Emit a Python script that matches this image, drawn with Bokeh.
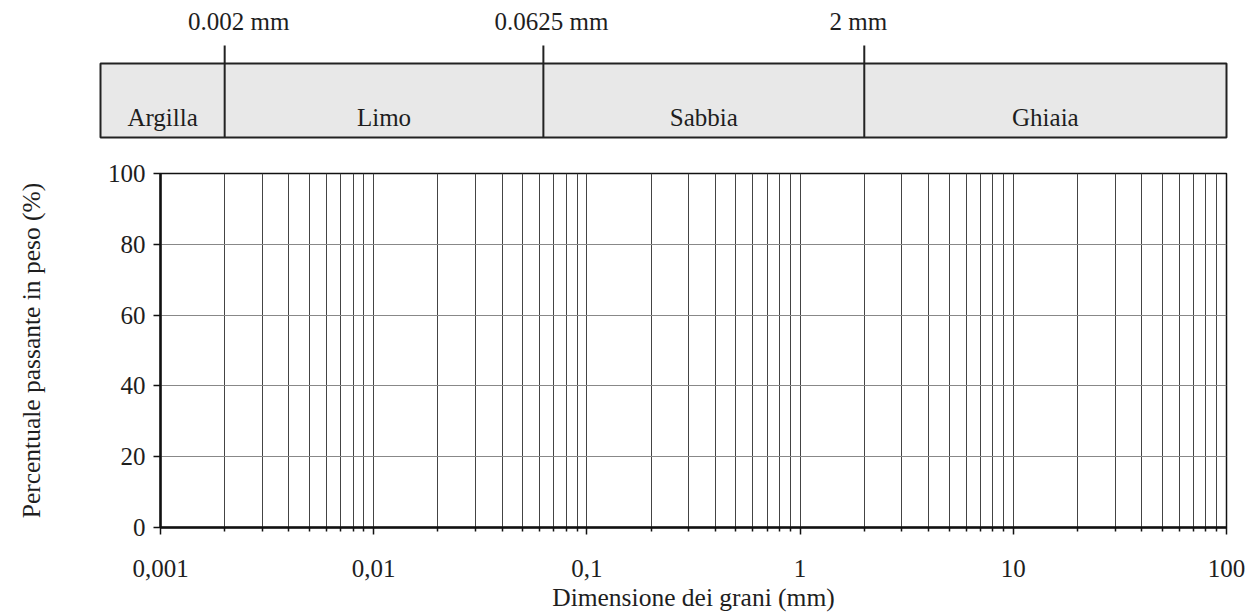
import math
from bokeh.plotting import figure
from bokeh.models import Range1d, FixedTicker
from bokeh.core.properties import value
from bokeh.embed import file_html
from bokeh.resources import INLINE

# ---------------- data ----------------
boundaries_mm = [0.002, 0.0625, 2]
boundary_labels = ["0.002 mm", "0.0625 mm", "2 mm"]
classes = ["Argilla", "Limo", "Sabbia", "Ghiaia"]
decade_ticks = [0.001, 0.01, 0.1, 1, 10, 100]
decade_labels = ["0,001", "0,01", "0,1", "1", "10", "100"]
minor_multipliers = [2, 3, 4, 5, 6, 7, 8, 9]
y_ticks = [0, 20, 40, 60, 80, 100]
x_title = "Dimensione dei grani (mm)"
y_title = "Percentuale passante in peso (%)"

# ---------------- layout / style constants ----------------
FONT = "Liberation Serif"
TXT = "#1e1e1e"
FS = "25px"
W = 1250
TOP_H = 142
MAIN_L, MAIN_R = 160, W - 1226       # main frame spans px 160..1226
MAIN_T, FRAME_H, MAIN_B = 31, 356, 85
FRAME_W = W - MAIN_L - MAIN_R
x_min, x_max = decade_ticks[0], decade_ticks[-1]
decade_px = FRAME_W / (math.log10(x_max) - math.log10(x_min))
boundary_label_dx = [14, 8, -6]      # small horizontal nudges of the boundary labels

def shift(v, px):
    return 10 ** (math.log10(v) + px / decade_px)

# ---------------- top band (classes) ----------------
TOP_L, TOP_R = 90, W - 1240
band_start = shift(x_min, -(MAIN_L - TOP_L))
band_end = shift(x_max, (W - TOP_R) - (W - MAIN_R))
box_left = shift(x_min, -60)
box_right = x_max

top = figure(width=W, height=TOP_H, x_axis_type="log",
             x_range=Range1d(band_start, band_end), y_range=Range1d(TOP_H, 0),
             min_border_left=TOP_L, min_border_right=TOP_R,
             min_border_top=0, min_border_bottom=0,
             output_backend="svg", toolbar_location=None)
top.axis.visible = False
top.grid.visible = False
top.outline_line_color = None
top.background_fill_color = None
top.border_fill_color = None

BOX_T, BOX_B, DIV_T = 63, 137, 45
top.quad(left=[box_left], right=[box_right], top=[BOX_T], bottom=[BOX_B],
         fill_color="#e8e8e8", line_color="#222222", line_width=2)
top.segment(x0=boundaries_mm, x1=boundaries_mm, y0=BOX_B, y1=DIV_T,
            line_color="#222222", line_width=2)
top.text(x=boundaries_mm, y=21, text=boundary_labels, x_offset=boundary_label_dx,
         text_align="center", text_baseline="middle", text_font=value(FONT),
         text_font_size=FS, text_color=TXT)
edges = [box_left] + boundaries_mm + [box_right]
centers = [math.sqrt(edges[i] * edges[i + 1]) for i in range(len(classes))]
top.text(x=centers, y=117, text=classes, text_align="center",
         text_baseline="middle", text_font=value(FONT), text_font_size=FS,
         text_color=TXT)

# ---------------- main chart ----------------
minor = [m * d for d in decade_ticks[:-1] for m in minor_multipliers]

p = figure(width=W, height=MAIN_T + FRAME_H + MAIN_B, x_axis_type="log",
           x_range=Range1d(x_min, x_max), y_range=Range1d(0, 100),
           min_border_left=MAIN_L, min_border_right=MAIN_R,
           min_border_top=MAIN_T, min_border_bottom=MAIN_B,
           output_backend="svg", toolbar_location=None)
p.background_fill_color = None
p.border_fill_color = None
p.outline_line_color = "#111111"
p.outline_line_width = 1.5

p.xaxis.ticker = FixedTicker(ticks=decade_ticks, minor_ticks=minor)
p.xaxis.major_label_overrides = {t: l for t, l in zip(decade_ticks, decade_labels)}
p.yaxis.ticker = FixedTicker(ticks=y_ticks, minor_ticks=[])

for ax in (p.xaxis[0], p.yaxis[0]):
    ax.axis_line_color = "#111111"
    ax.axis_line_width = 2.5
    ax.major_tick_line_color = "#111111"
    ax.major_tick_line_width = 1.5
    ax.major_tick_out = 7
    ax.major_tick_in = 0
    ax.major_label_text_font = FONT
    ax.major_label_text_font_size = FS
    ax.major_label_text_color = TXT
    ax.axis_label_text_font = FONT
    ax.axis_label_text_font_size = "25.5px"
    ax.axis_label_text_font_style = "normal"
    ax.axis_label_text_color = TXT

p.xaxis.minor_tick_line_color = "#111111"
p.xaxis.minor_tick_line_width = 1.5
p.xaxis.minor_tick_out = 4
p.xaxis.minor_tick_in = 0
p.xaxis.major_label_standoff = 25
p.xaxis.axis_label = x_title
p.xaxis.axis_label_standoff = 3

p.yaxis.minor_tick_line_color = None
p.yaxis.major_label_standoff = 8
p.yaxis.axis_label = y_title
p.yaxis.axis_label_standoff = 59

p.xgrid.grid_line_color = "#444444"
p.xgrid.grid_line_width = 1
p.xgrid.minor_grid_line_color = "#444444"
p.xgrid.minor_grid_line_width = 1
p.ygrid.grid_line_color = "#888888"
p.ygrid.grid_line_width = 1

open("out.html", "w").write(file_html([top, p], INLINE))
